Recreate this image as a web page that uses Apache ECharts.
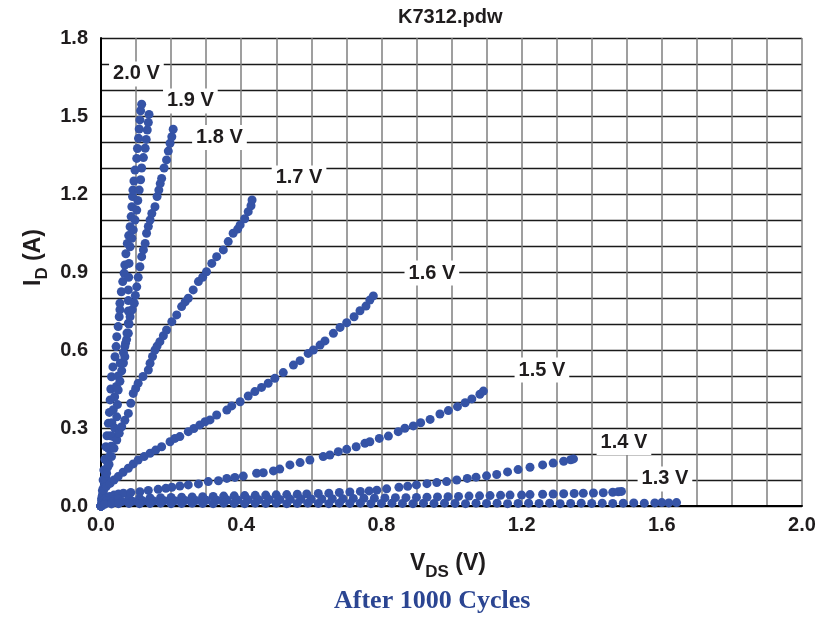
<!DOCTYPE html>
<html>
<head>
<meta charset="utf-8">
<script src="https://cdn.jsdelivr.net/npm/echarts@6/dist/echarts.min.js"></script>
<style>html,body{margin:0;padding:0;background:#fff;}#chart{width:831px;height:620px;}</style>
</head>
<body>
<div id="chart"></div>
<script>
// ---- data (V_DS in volts, I_D in amps) ----
var xTicks = [0.0, 0.4, 0.8, 1.2, 1.6, 2.0];
var yTicks = [0.0, 0.3, 0.6, 0.9, 1.2, 1.5, 1.8];

var curveNames = ['2.0 V', '1.9 V', '1.8 V', '1.7 V', '1.6 V', '1.5 V', '1.4 V', '1.3 V', '1.2 V'];

var c20 = [[0,0],[0.002,0.03],[0.004,0.06],[0.006,0.1],[0.008,0.138],[0.011,0.18],[0.014,0.228],[0.017,0.27],[0.021,0.318],[0.024,0.36],[0.026,0.408],[0.028,0.45],[0.030,0.497],[0.034,0.535],[0.040,0.574],[0.043,0.613],[0.045,0.651],[0.049,0.69],[0.052,0.728],[0.054,0.755],[0.054,0.78],[0.058,0.824],[0.062,0.863],[0.066,0.895],[0.068,0.927],[0.071,0.97],[0.075,1.01],[0.079,1.04],[0.083,1.074],[0.086,1.113],[0.088,1.151],[0.090,1.19],[0.091,1.215],[0.094,1.25],[0.097,1.292],[0.102,1.337],[0.104,1.375],[0.107,1.414],[0.109,1.45],[0.111,1.485],[0.113,1.52],[0.116,1.545]];

var c19 = [[0,0],[0.004,0.03],[0.008,0.07],[0.013,0.12],[0.018,0.17],[0.022,0.22],[0.027,0.27],[0.031,0.32],[0.035,0.37],[0.039,0.42],[0.044,0.46],[0.049,0.5],[0.055,0.55],[0.064,0.59],[0.070,0.626],[0.074,0.665],[0.078,0.703],[0.078,0.75],[0.078,0.79],[0.078,0.831],[0.079,0.88],[0.080,0.933],[0.083,0.997],[0.088,1.03],[0.092,1.062],[0.097,1.1],[0.102,1.138],[0.105,1.175],[0.109,1.215],[0.113,1.255],[0.116,1.3],[0.121,1.34],[0.126,1.376],[0.129,1.41],[0.132,1.446],[0.135,1.475],[0.137,1.506]];

var c18 = [[0,0],[0.003,0.02],[0.006,0.05],[0.010,0.08],[0.014,0.11],[0.019,0.15],[0.024,0.19],[0.029,0.23],[0.035,0.267],[0.039,0.3],[0.045,0.343],[0.047,0.39],[0.049,0.446],[0.054,0.48],[0.059,0.52],[0.064,0.55],[0.068,0.574],[0.068,0.613],[0.073,0.64],[0.078,0.664],[0.080,0.7],[0.083,0.728],[0.089,0.755],[0.095,0.78],[0.098,0.81],[0.102,0.843],[0.106,0.88],[0.111,0.92],[0.116,0.959],[0.121,0.985],[0.126,1.01],[0.130,1.049],[0.135,1.075],[0.140,1.1],[0.145,1.125],[0.154,1.151],[0.160,1.19],[0.165,1.215],[0.169,1.24],[0.173,1.26],[0.180,1.3],[0.187,1.331],[0.192,1.365],[0.197,1.395],[0.202,1.42],[0.206,1.449]];

var c17 = [[0,0],[0.004,0.04],[0.008,0.07],[0.012,0.1],[0.016,0.126],[0.023,0.16],[0.030,0.19],[0.037,0.222],[0.045,0.254],[0.052,0.28],[0.059,0.305],[0.068,0.33],[0.078,0.356],[0.085,0.395],[0.092,0.433],[0.099,0.452],[0.106,0.472],[0.120,0.498],[0.135,0.523],[0.140,0.549],[0.147,0.575],[0.154,0.6],[0.160,0.615],[0.168,0.632],[0.178,0.655],[0.187,0.677],[0.202,0.709],[0.216,0.735],[0.230,0.767],[0.240,0.785],[0.249,0.799],[0.263,0.831],[0.278,0.863],[0.290,0.88],[0.301,0.901],[0.316,0.933],[0.330,0.959],[0.349,0.985],[0.363,1.017],[0.377,1.049],[0.390,1.065],[0.397,1.081],[0.410,1.105],[0.420,1.132],[0.428,1.155],[0.431,1.177]];

var c16 = [[0,0],[0.002,0.02],[0.004,0.04],[0.007,0.06],[0.015,0.075],[0.026,0.087],[0.037,0.1],[0.049,0.113],[0.063,0.13],[0.078,0.145],[0.092,0.162],[0.106,0.177],[0.123,0.19],[0.140,0.203],[0.156,0.215],[0.173,0.228],[0.197,0.247],[0.211,0.26],[0.225,0.267],[0.249,0.286],[0.265,0.298],[0.282,0.312],[0.297,0.324],[0.311,0.331],[0.330,0.35],[0.359,0.369],[0.373,0.385],[0.397,0.401],[0.420,0.423],[0.439,0.44],[0.458,0.456],[0.477,0.472],[0.496,0.491],[0.520,0.513],[0.549,0.542],[0.568,0.559],[0.591,0.587],[0.606,0.6],[0.625,0.619],[0.639,0.635],[0.663,0.664],[0.682,0.687],[0.701,0.705],[0.722,0.728],[0.739,0.751],[0.756,0.769],[0.767,0.792],[0.777,0.808]];

var c15 = [[0,0],[0.003,0.012],[0.008,0.022],[0.015,0.03],[0.025,0.037],[0.037,0.042],[0.050,0.046],[0.064,0.049],[0.085,0.052],[0.111,0.055],[0.135,0.06],[0.163,0.064],[0.185,0.068],[0.202,0.072],[0.225,0.077],[0.249,0.081],[0.278,0.085],[0.306,0.094],[0.335,0.097],[0.359,0.106],[0.382,0.11],[0.406,0.115],[0.444,0.126],[0.463,0.128],[0.492,0.135],[0.510,0.142],[0.539,0.158],[0.568,0.167],[0.596,0.177],[0.634,0.19],[0.653,0.196],[0.677,0.209],[0.701,0.218],[0.728,0.228],[0.753,0.241],[0.767,0.247],[0.794,0.26],[0.820,0.269],[0.848,0.286],[0.867,0.299],[0.891,0.308],[0.912,0.32],[0.939,0.333],[0.967,0.354],[0.991,0.367],[1.017,0.382],[1.039,0.397],[1.058,0.412],[1.081,0.43],[1.091,0.442]];

var c14 = [[0,0],[0.005,0.01],[0.015,0.018],[0.03,0.023],[0.05,0.026],[0.08,0.028],[0.11,0.03],[0.14,0.031],[0.17,0.032],[0.20,0.033],[0.23,0.034],[0.26,0.035],[0.29,0.036],[0.32,0.037],[0.35,0.038],[0.38,0.039],[0.41,0.04],[0.44,0.041],[0.47,0.042],[0.50,0.043],[0.53,0.044],[0.56,0.045],[0.587,0.046],[0.62,0.048],[0.65,0.049],[0.68,0.052],[0.71,0.054],[0.74,0.056],[0.765,0.058],[0.787,0.061],[0.815,0.066],[0.85,0.072],[0.875,0.076],[0.90,0.081],[0.93,0.086],[0.958,0.09],[0.986,0.094],[1.015,0.1],[1.045,0.106],[1.07,0.111],[1.10,0.116],[1.129,0.121],[1.16,0.131],[1.19,0.14],[1.224,0.149],[1.26,0.158],[1.29,0.165],[1.32,0.172],[1.34,0.178],[1.348,0.181]];

var c13 = [[0,0],[0.01,0.008],[0.03,0.014],[0.06,0.017],[0.09,0.018],[0.12,0.019],[0.15,0.019],[0.18,0.02],[0.21,0.02],[0.24,0.021],[0.27,0.021],[0.30,0.022],[0.33,0.022],[0.36,0.023],[0.39,0.023],[0.42,0.024],[0.45,0.024],[0.48,0.025],[0.51,0.025],[0.54,0.026],[0.57,0.026],[0.60,0.027],[0.63,0.027],[0.66,0.028],[0.69,0.028],[0.72,0.029],[0.75,0.03],[0.78,0.03],[0.81,0.031],[0.84,0.032],[0.87,0.032],[0.90,0.033],[0.93,0.034],[0.96,0.035],[0.99,0.036],[1.02,0.037],[1.05,0.038],[1.08,0.039],[1.11,0.04],[1.14,0.041],[1.167,0.042],[1.20,0.042],[1.224,0.044],[1.26,0.045],[1.29,0.046],[1.32,0.047],[1.35,0.048],[1.376,0.049],[1.405,0.05],[1.433,0.051],[1.46,0.053],[1.476,0.055],[1.485,0.056]];

var c12 = [[0,0],[0.01,0.006],[0.03,0.008],[0.05,0.009],[0.08,0.01],[0.11,0.009],[0.14,0.01],[0.17,0.011],[0.20,0.009],[0.23,0.01],[0.26,0.011],[0.29,0.01],[0.32,0.009],[0.35,0.011],[0.38,0.01],[0.41,0.009],[0.44,0.011],[0.47,0.01],[0.50,0.011],[0.53,0.009],[0.56,0.01],[0.59,0.011],[0.62,0.01],[0.65,0.009],[0.68,0.011],[0.71,0.01],[0.74,0.011],[0.77,0.009],[0.80,0.01],[0.83,0.011],[0.86,0.01],[0.89,0.009],[0.92,0.011],[0.95,0.01],[0.98,0.011],[1.01,0.01],[1.04,0.009],[1.07,0.011],[1.10,0.01],[1.13,0.011],[1.16,0.009],[1.19,0.01],[1.22,0.011],[1.25,0.01],[1.28,0.011],[1.31,0.009],[1.34,0.01],[1.37,0.011],[1.40,0.01],[1.43,0.011],[1.46,0.01],[1.49,0.011],[1.52,0.012],[1.55,0.011],[1.58,0.012],[1.60,0.013],[1.62,0.012],[1.642,0.013]];

var curves = [c20, c19, c18, c17, c16, c15, c14, c13, c12];

// curve labels
var labelTexts = ['2.0 V', '1.9 V', '1.8 V', '1.7 V', '1.6 V', '1.5 V', '1.4 V', '1.3 V'];
var labelV = [0.101, 0.255, 0.338, 0.565, 0.944, 1.258, 1.492, 1.609];
var labelI = [1.662, 1.558, 1.417, 1.262, 0.896, 0.523, 0.244, 0.104];

var chart = echarts.init(document.getElementById('chart'), null, {renderer: 'canvas'});

var dotColor = '#3553a6';
var TEXT = '#1f1c1d';
var FONT = '"Liberation Sans", Arial, Helvetica, sans-serif';

function isTick(v, arr) {
  for (var i = 0; i < arr.length; i++) if (Math.abs(arr[i] - v) < 1e-6) return true;
  return false;
}

var series = curves.map(function (c, i) {
  return {
    name: curveNames[i],
    type: 'scatter',
    data: c,
    symbol: 'circle',
    symbolSize: 9,
    itemStyle: {color: dotColor, opacity: 1},
    silent: true,
    z: 3
  };
});

series.push({
  name: 'labels',
  type: 'scatter',
  symbolSize: 0,
  itemStyle: {color: '#ffffff', opacity: 1},
  silent: true,
  z: 5,
  data: labelTexts.map(function (t, i) { return {name: t, value: [labelV[i], labelI[i]]}; }),
  label: {
    show: true,
    opacity: 1,
    position: 'inside',
    formatter: '{b}',
    color: TEXT,
    fontFamily: FONT,
    fontWeight: 'bold',
    fontSize: 20,
    backgroundColor: '#ffffff',
    padding: [3, 4, 2, 4]
  },
  emphasis: {disabled: true}
});

var option = {
  animation: false,
  backgroundColor: '#ffffff',
  grid: {left: 101, right: 29, top: 38, bottom: 114, containLabel: false},
  xAxis: {
    type: 'value', min: 0, max: 2.0, interval: 0.1,
    axisLine: {show: true, onZero: false, lineStyle: {color: '#000', width: 2}},
    axisTick: {show: false},
    axisLabel: {
      margin: 9, color: TEXT, fontFamily: FONT, fontWeight: 'bold', fontSize: 20,
      formatter: function (v) { return isTick(v, xTicks) ? v.toFixed(1) : ''; }
    },
    splitLine: {show: true, lineStyle: {color: '#7f7f7f', width: 1.5}}
  },
  yAxis: {
    type: 'value', min: 0, max: 1.8, interval: 0.1,
    axisLine: {show: true, onZero: false, lineStyle: {color: '#000', width: 2}},
    axisTick: {show: false},
    axisLabel: {
      margin: 13, color: TEXT, fontFamily: FONT, fontWeight: 'bold', fontSize: 20,
      formatter: function (v) { return isTick(v, yTicks) ? v.toFixed(1) : ''; }
    },
    splitLine: {show: true, lineStyle: {color: '#1a1a1a', width: 1.3}}
  },
  series: series,
  graphic: [
    {type: 'text', left: 398, top: 7, style: {text: 'K7312.pdw', fill: TEXT, font: 'bold 20px ' + FONT}},
    {type: 'text', x: 410, y: 547, style: {
      text: '{m|V}{s|DS}{m| (V)}', fill: TEXT,
      rich: {
        m: {fontFamily: FONT, fontWeight: 'bold', fontSize: 23, fill: TEXT, lineHeight: 28, verticalAlign: 'bottom'},
        s: {fontFamily: FONT, fontWeight: 'bold', fontSize: 17, fill: TEXT, lineHeight: 28, verticalAlign: 'bottom', padding: [0, 0, -6, 0]}
      }
    }},
    {type: 'text', x: 334, y: 588, style: {text: 'After 1000 Cycles', fill: '#2b4592', font: 'bold 26px "Liberation Serif", "Times New Roman", serif'}},
    {type: 'text', x: 17, y: 286, rotation: Math.PI / 2, style: {
      text: '{m|I}{s|D}{m| (A)}', fill: TEXT,
      rich: {
        m: {fontFamily: FONT, fontWeight: 'bold', fontSize: 23, fill: TEXT, lineHeight: 28, verticalAlign: 'bottom'},
        s: {fontFamily: FONT, fontWeight: 'bold', fontSize: 17, fill: TEXT, lineHeight: 28, verticalAlign: 'bottom', padding: [0, 0, -6, 0]}
      }
    }}
  ]
};

chart.setOption(option);
</script>
</body>
</html>
